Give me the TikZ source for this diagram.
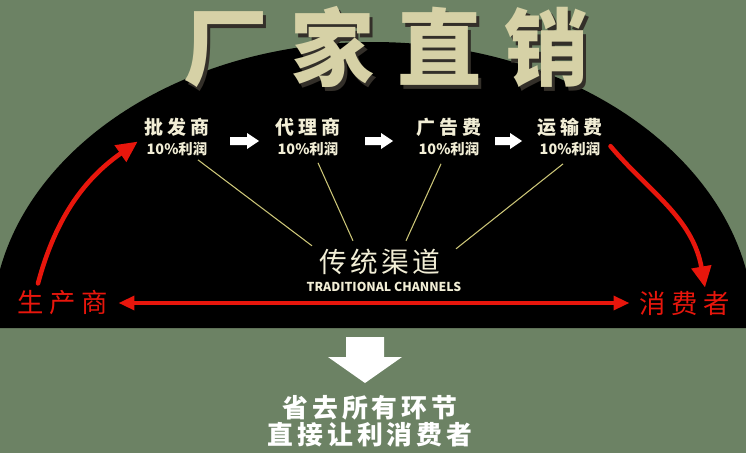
\documentclass[tikz,border=0pt]{standalone}
\usepackage{fontspec}
\usetikzlibrary{arrows.meta}
\newfontfamily\cjk{Noto Sans CJK SC}

\definecolor{verde}{RGB}{108,130,100}
\definecolor{crema}{RGB}{242,238,214}
\definecolor{oro}{RGB}{214,209,166}
\definecolor{rosso}{RGB}{232,22,12}
\definecolor{linea}{RGB}{204,198,120}

\tikzset{
  voce/.style={inner sep=0pt, align=center, text=crema},
  rossa/.style={inner sep=0pt, text=rosso, font=\cjk\fontsize{15}{16}\selectfont\addfontfeature{LetterSpace=22}},
  raggio/.style={draw=linea, line width=0.6pt},
  freccia/.style={draw=rosso, line width=1.8pt, -{Triangle[length=9pt,width=8pt]}},
  curva/.style={draw=rosso, line width=2.6pt, line cap=round, -{Triangle[length=12pt,width=11pt]}},
  blocco/.style={fill=white},
  titolofont/.style={inner sep=0pt, font=\cjk\bfseries\fontsize{48}{48}\selectfont\addfontfeature{LetterSpace=27}}
}

\begin{document}
\begin{tikzpicture}[x=0.02cm, y=-0.02cm]
        % Sfondo e semiellisse nera
        \useasboundingbox (0,0) rectangle (746,453);
        \clip (0,0) rectangle (746,453);
        \fill[verde] (0,0) rectangle (746,453);
        \fill[black] (-8,328) arc[start angle=180, end angle=360, x radius=381, y radius=286] -- cycle;

        % Titolo
        \node[titolofont, text=black!85!olive] at (389,51) {厂家直销};
        \node[titolofont, text=oro] (titolo) at (386,47) {厂家直销};

        % Voci del canale tradizionale
        \node[voce] (pifa) at (177,137) {{\cjk\bfseries\fontsize{10.8}{14}\selectfont\addfontfeature{LetterSpace=21}批发商}\\[-1pt]{\cjk\bfseries\fontsize{8.2}{10}\selectfont 10\%利润}};
        \node[voce] (daili) at (308,137) {{\cjk\bfseries\fontsize{10.8}{14}\selectfont\addfontfeature{LetterSpace=21}代理商}\\[-1pt]{\cjk\bfseries\fontsize{8.2}{10}\selectfont 10\%利润}};
        \node[voce] (guanggao) at (449,137) {{\cjk\bfseries\fontsize{10.8}{14}\selectfont\addfontfeature{LetterSpace=21}广告费}\\[-1pt]{\cjk\bfseries\fontsize{8.2}{10}\selectfont 10\%利润}};
        \node[voce] (yunshu) at (570,137) {{\cjk\bfseries\fontsize{10.8}{14}\selectfont\addfontfeature{LetterSpace=21}运输费}\\[-1pt]{\cjk\bfseries\fontsize{8.2}{10}\selectfont 10\%利润}};

        % Frecce bianche tra le voci
        \fill[blocco] (230,137) -- (247,137) -- (247,133) -- (259,141) -- (247,149) -- (247,145) -- (230,145) -- cycle;
        \fill[blocco] (365,137) -- (381,137) -- (381,133) -- (393,141) -- (381,149) -- (381,145) -- (365,145) -- cycle;
        \fill[blocco] (495,137) -- (510,137) -- (510,133) -- (522,141) -- (510,149) -- (510,145) -- (495,145) -- cycle;

        % Canali tradizionali
        \node[voce] (trad) at (380,262) {\cjk\fontsize{15.8}{18}\selectfont\addfontfeature{LetterSpace=12}传统渠道};
        \node[voce] (tradeng) at (384,287) {\cjk\bfseries\fontsize{7}{8}\selectfont TRADITIONAL CHANNELS};

        \draw[raggio] ([shift={(21,4)}]pifa.south) -- ([shift={(-68,-3)}]trad.north);
        \draw[raggio] ([shift={(10,7)}]daili.south) -- ([shift={(-27,-8)}]trad.north);
        \draw[raggio] ([shift={(-8,8)}]guanggao.south) -- ([shift={(26,-8)}]trad.north);
        \draw[raggio] ([shift={(-7,8)}]yunshu.south) -- ([shift={(76,0)}]trad.north);

        % Produttore e consumatore
        \node[rossa] (prod) at (63,303) {生产商};
        \node[rossa] (cons) at (685,303) {消费者};

        \draw[freccia, {Triangle[length=9pt,width=8pt]}-{Triangle[length=9pt,width=8pt]}, shorten <=0.2cm, shorten >=0.2cm] (prod.east) -- (cons.west);
        \draw[curva, shorten >=0.16cm] ([shift={(-25,-7)}]prod.north) to[out=75, in=215] (pifa.west);
        \draw[curva, shorten <=0.24cm] (yunshu.east) to[out=-50, in=100] ([shift={(20,-3)}]cons.north);

        % Freccia in basso e conclusione
        \fill[blocco] (346,337) -- (384,337) -- (384,357) -- (402,357) -- (365,383) -- (328,357) -- (346,357) -- cycle;
        \node[inner sep=0pt, align=center, text=white,
              font=\cjk\bfseries\fontsize{14.7}{15.5}\selectfont\addfontfeature{LetterSpace=15}] (fine) at (370,421)
          {省去所有环节\\直接让利消费者};
    \end{tikzpicture}
\end{document}
